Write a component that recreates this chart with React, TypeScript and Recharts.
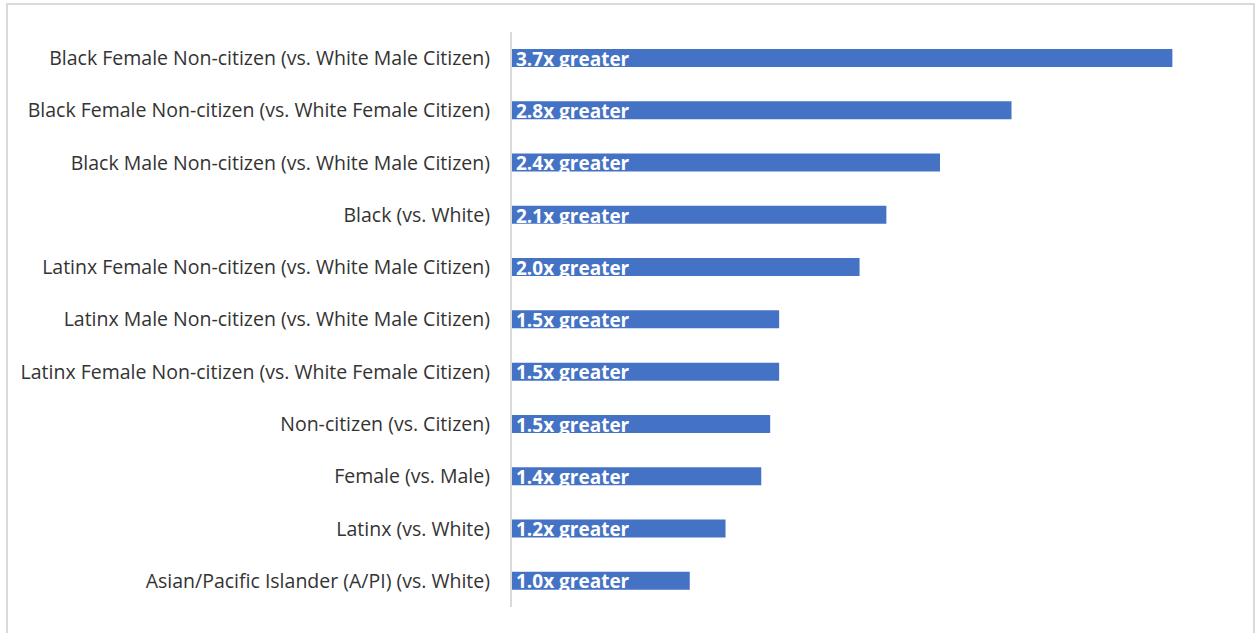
import { Bar, BarChart, XAxis, YAxis, LabelList } from 'recharts';

const categories = [
  'Black Female Non-citizen (vs. White Male Citizen)',
  'Black Female Non-citizen (vs. White Female Citizen)',
  'Black Male Non-citizen (vs. White Male Citizen)',
  'Black (vs. White)',
  'Latinx Female Non-citizen (vs. White Male Citizen)',
  'Latinx Male Non-citizen (vs. White Male Citizen)',
  'Latinx Female Non-citizen (vs. White Female Citizen)',
  'Non-citizen (vs. Citizen)',
  'Female (vs. Male)',
  'Latinx (vs. White)',
  'Asian/Pacific Islander (A/PI) (vs. White)',
];

const ratios = [3.7, 2.8, 2.4, 2.1, 1.95, 1.5, 1.5, 1.45, 1.4, 1.2, 1.0];

const barLabels = [
  '3.7x greater',
  '2.8x greater',
  '2.4x greater',
  '2.1x greater',
  '2.0x greater',
  '1.5x greater',
  '1.5x greater',
  '1.5x greater',
  '1.4x greater',
  '1.2x greater',
  '1.0x greater',
];

const data = categories.map((name, i) => ({
  name,
  value: ratios[i],
  label: barLabels[i],
}));

export default function App() {
  return (
    <div
      style={{
        position: 'absolute',
        left: 6,
        top: 3,
        width: 1249,
        height: 640,
        border: '2px solid #d9d9d9',
        boxSizing: 'border-box',
        background: '#fff',
      }}
    >
      <BarChart
        width={1245}
        height={625}
        data={data}
        layout="vertical"
        margin={{ top: 27, right: 27, left: 0, bottom: 23 }}
        barSize={18}
      >
        <XAxis type="number" domain={[0, 4]} hide />
        <YAxis
          dataKey="name"
          type="category"
          width={503}
          tickLine={false}
          axisLine={{ stroke: '#d9d9d9', strokeWidth: 2 }}
          tickMargin={15}
          tick={{ fill: '#333333', fontSize: 19.5, fontFamily: 'Open Sans' }}
          interval={0}
        />
        <Bar dataKey="value" fill="#4472C4" isAnimationActive={false}>
          <LabelList
            dataKey="label"
            position="insideLeft"
            offset={5}
            fill="#ffffff"
            fontSize={19}
            fontWeight="bold"
            fontFamily="Open Sans"
            dy={1}
          />
        </Bar>
      </BarChart>
    </div>
  );
}
